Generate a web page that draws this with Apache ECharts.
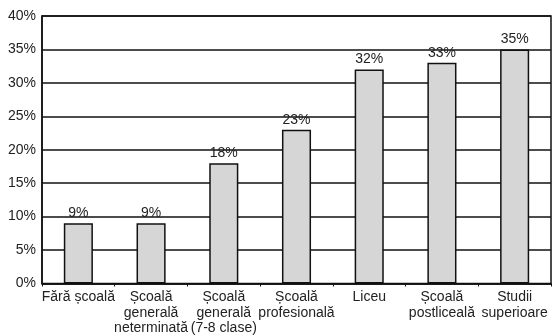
<!DOCTYPE html>
<html>
<head>
<meta charset="utf-8">
<script src="https://cdn.jsdelivr.net/npm/echarts@6/dist/echarts.min.js"></script>
<style>
  html, body { margin: 0; padding: 0; background: #fff; }
  #chart { width: 554px; height: 336px; }
</style>
</head>
<body>
<div id="chart"></div>
<script>
// Education levels and their shares (percent)
const categories = [
  'Fără școală',
  'Școală\ngenerală\nneterminată',
  'Școală\ngenerală\n(7-8 clase)',
  'Școală\nprofesională',
  'Liceu',
  'Școală\npostliceală',
  'Studii\nsuperioare'
];
const shares = [9, 9, 18, 23, 32, 33, 35];
const yTicks = { min: 0, max: 40, step: 5 };

const font = '"Liberation Sans", Arial, sans-serif';
const chart = echarts.init(document.getElementById('chart'));
chart.setOption({
  animation: false,
  backgroundColor: '#fff',
  grid: {
    left: 42, right: 3, top: 16, bottom: 50,
    show: true, borderColor: '#111', borderWidth: 1.5
  },
  xAxis: {
    type: 'category',
    data: categories,
    axisLine: { lineStyle: { color: '#111', width: 1.5 } },
    axisTick: { show: true, length: 3, interval: 0, lineStyle: { color: '#111' } },
    axisLabel: {
      interval: 0, margin: 6, color: '#222',
      fontFamily: font, fontSize: 14, lineHeight: 15.5
    }
  },
  yAxis: {
    type: 'value',
    min: yTicks.min, max: yTicks.max, interval: yTicks.step,
    axisLine: { show: true, lineStyle: { color: '#111', width: 1.5 } },
    axisTick: { show: false },
    axisLabel: {
      formatter: '{value}%', margin: 6, color: '#222',
      fontFamily: font, fontSize: 14
    },
    splitLine: { lineStyle: { color: '#111', width: 1.6 } }
  },
  series: [{
    type: 'bar',
    data: shares,
    barWidth: '40%',
    itemStyle: { color: '#d6d6d6', borderColor: '#111', borderWidth: 1.5 },
    label: {
      show: true, position: 'top', distance: 3,
      formatter: '{c}%', color: '#222',
      fontFamily: font, fontSize: 14
    }
  }]
});
</script>
</body>
</html>
